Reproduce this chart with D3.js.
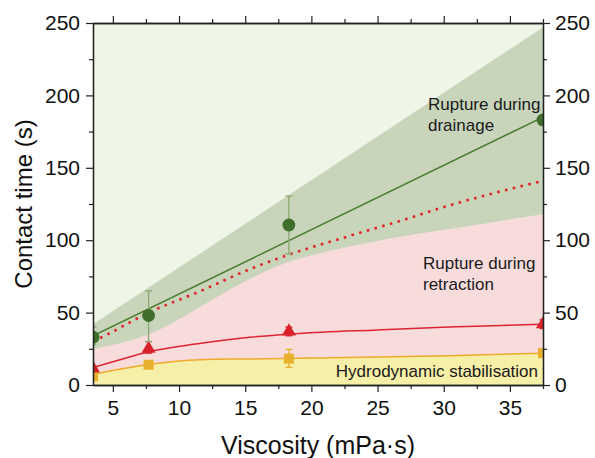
<!DOCTYPE html>
<html>
<head>
<meta charset="utf-8">
<script src="https://cdn.jsdelivr.net/npm/d3@7"></script>
<style>
  body { margin: 0; background: #fff; }
  text { font-family: "Liberation Sans", Arial, sans-serif; }
</style>
</head>
<body>
<script>
// measured points (viscosity, contact time)
var drainX = [3.5, 7.7, 18.3, 37.5],
  drainY = [33, 48, 110.5, 183],
  drainErr = [[28, 40], [30, 65], [90.5, 130.5], null];

var retractX = [3.5, 7.7, 18.3, 37.5],
  retractY = [11.5, 25, 37, 42],
  retractErr = [null, [22, 30], [34, 40], [39, 45]];

var stabX = [3.5, 7.7, 18.3, 37.5],
  stabY = [6, 14, 18.2, 22],
  stabErr = [null, [12, 16], [12.2, 24.6], null];

// fitted lines
var drainFit = [[3.5, 34], [37.5, 185]];
var dottedFit = [[3.5, 30], [4.6, 35], [7.7, 50], [11.4, 64], [15.35, 80], [18.3, 90],
  [22.9, 103], [26.6, 113], [30.4, 124], [34, 133], [37.5, 141]];
var retractFit = [[3.5, 12], [5, 16], [7.7, 23], [11.4, 28.5], [15.35, 33], [19, 35.5],
  [25, 38], [30.4, 40], [37.5, 42]];
var stabFit = [[3.5, 7.5], [5, 10], [7.7, 14.2], [11.6, 17.5], [15.35, 18], [20, 18.6],
  [25, 19.3], [30.4, 20.2], [37.5, 22]];

// shaded regions
var drainUpper = [[3.5, 42], [37.5, 247]];
var drainLower = [[3.5, 25], [5, 27.5], [7.7, 34], [10, 45], [12.5, 59], [15, 72],
  [17.5, 83], [20, 90], [25, 100], [30, 107], [37.5, 118]];

var xTicks = [5, 10, 15, 20, 25, 30, 35],
  xMinor = [7.5, 12.5, 17.5, 22.5, 27.5, 32.5, 37.5],
  yTicks = [0, 50, 100, 150, 200, 250],
  yMinor = [25, 75, 125, 175, 225];

var width = 595, height = 458;
var pL = 93, pR = 543, pT = 23, pB = 385;

var x = d3.scaleLinear().domain([3.5, 37.5]).range([pL, pR]);
var y = d3.scaleLinear().domain([0, 250]).range([pB, pT]);

var svg = d3.select("body").append("svg")
  .attr("width", width)
  .attr("height", height);

svg.append("defs").append("clipPath")
  .attr("id", "plot")
  .append("rect")
  .attr("x", pL).attr("y", pT)
  .attr("width", pR - pL).attr("height", pB - pT);

var plot = svg.append("g").attr("clip-path", "url(#plot)");

plot.append("rect")
  .attr("x", pL).attr("y", pT)
  .attr("width", pR - pL).attr("height", pB - pT)
  .attr("fill", "#eff5e7");

var area = d3.area()
  .x(function (d) { return x(d[0]); })
  .y0(y(0))
  .y1(function (d) { return y(d[1]); })
  .curve(d3.curveMonotoneX);

var line = d3.line()
  .x(function (d) { return x(d[0]); })
  .y(function (d) { return y(d[1]); })
  .curve(d3.curveMonotoneX);

plot.append("path").attr("d", area(drainUpper)).attr("fill", "#c8d5bb");
plot.append("path").attr("d", area.curve(d3.curveBasis)(drainLower)).attr("fill", "#f8dcdc");
area.curve(d3.curveMonotoneX);
plot.append("path").attr("d", area(stabFit)).attr("fill", "#f6efa8");

plot.append("path").attr("d", line(drainFit))
  .attr("fill", "none").attr("stroke", "#4b7c33").attr("stroke-width", 1.5);
plot.append("path").attr("d", line(dottedFit))
  .attr("fill", "none").attr("stroke", "#e0252e").attr("stroke-width", 2.6)
  .attr("stroke-dasharray", "2.6,5.4");
plot.append("path").attr("d", line(retractFit))
  .attr("fill", "none").attr("stroke", "#dd2430").attr("stroke-width", 1.5);
plot.append("path").attr("d", line(stabFit))
  .attr("fill", "none").attr("stroke", "#eeaa2c").attr("stroke-width", 1.5);

function series(xs, ys, errs, shape, size, fill, errColor) {
  var g = plot.append("g");
  xs.forEach(function (v, i) {
    var e = errs[i];
    if (e) {
      g.append("line")
        .attr("x1", x(v)).attr("x2", x(v))
        .attr("y1", y(e[0])).attr("y2", y(e[1]))
        .attr("stroke", errColor).attr("stroke-width", 1.3);
      e.forEach(function (b) {
        g.append("line")
          .attr("x1", x(v) - 3.5).attr("x2", x(v) + 3.5)
          .attr("y1", y(b)).attr("y2", y(b))
          .attr("stroke", errColor).attr("stroke-width", 1.3);
      });
    }
  });
  g.selectAll("path.m")
    .data(xs)
    .enter().append("path")
    .attr("class", "m")
    .attr("d", d3.symbol().type(shape).size(size))
    .attr("transform", function (d, i) { return "translate(" + x(d) + "," + y(ys[i]) + ")"; })
    .attr("fill", fill);
}

series(stabX, stabY, stabErr, d3.symbolSquare, 100, "#e9b02e", "#e9b02e");
series(retractX, retractY, retractErr, d3.symbolTriangle, 85, "#d8212b", "#d8212b");
series(drainX, drainY, drainErr, d3.symbolCircle, 130, "#3f6e2a", "#8aa874");

// annotations
var notes = svg.append("g").attr("font-size", 17).attr("fill", "#1a1a1a");
notes.append("text").attr("x", 428).attr("y", 110).text("Rupture during");
notes.append("text").attr("x", 428).attr("y", 131).text("drainage");
notes.append("text").attr("x", 423).attr("y", 269).text("Rupture during");
notes.append("text").attr("x", 423).attr("y", 290).text("retraction");
notes.append("text").attr("x", 538).attr("y", 377).attr("text-anchor", "end")
  .text("Hydrodynamic stabilisation");

// axes
function styleAxis(g) {
  g.select(".domain").attr("stroke", "#222").attr("stroke-width", 1.3);
  g.selectAll(".tick line").attr("stroke", "#222").attr("stroke-width", 1.2);
  g.selectAll("text").attr("font-size", 21).attr("fill", "#111")
    .attr("font-family", "Liberation Sans, Arial, sans-serif");
}

svg.append("g").attr("transform", "translate(0," + pB + ")")
  .call(d3.axisBottom(x).tickValues(xTicks).tickSize(7).tickPadding(8).tickSizeOuter(0))
  .call(styleAxis);
svg.append("g").attr("transform", "translate(0," + pB + ")")
  .call(d3.axisBottom(x).tickValues(xMinor).tickSize(4).tickFormat("").tickSizeOuter(0))
  .call(styleAxis);
svg.append("g").attr("transform", "translate(0," + pT + ")")
  .call(d3.axisTop(x).tickValues(xTicks).tickSize(7).tickFormat("").tickSizeOuter(0))
  .call(styleAxis);
svg.append("g").attr("transform", "translate(0," + pT + ")")
  .call(d3.axisTop(x).tickValues(xMinor).tickSize(4).tickFormat("").tickSizeOuter(0))
  .call(styleAxis);

svg.append("g").attr("transform", "translate(" + pL + ",0)")
  .call(d3.axisLeft(y).tickValues(yTicks).tickSize(7).tickPadding(6).tickSizeOuter(0))
  .call(styleAxis);
svg.append("g").attr("transform", "translate(" + pL + ",0)")
  .call(d3.axisLeft(y).tickValues(yMinor).tickSize(4).tickFormat("").tickSizeOuter(0))
  .call(styleAxis);
svg.append("g").attr("transform", "translate(" + pR + ",0)")
  .call(d3.axisRight(y).tickValues(yTicks).tickSize(7).tickPadding(5).tickSizeOuter(0))
  .call(styleAxis);
svg.append("g").attr("transform", "translate(" + pR + ",0)")
  .call(d3.axisRight(y).tickValues(yMinor).tickSize(4).tickFormat("").tickSizeOuter(0))
  .call(styleAxis);

svg.append("text")
  .attr("x", (pL + pR) / 2).attr("y", 454)
  .attr("text-anchor", "middle").attr("font-size", 25).attr("fill", "#111")
  .text("Viscosity (mPa·s)");
svg.append("text")
  .attr("transform", "translate(32," + (pT + pB) / 2 + ") rotate(-90)")
  .attr("text-anchor", "middle").attr("font-size", 24).attr("fill", "#111")
  .text("Contact time (s)");
</script>
</body>
</html>
